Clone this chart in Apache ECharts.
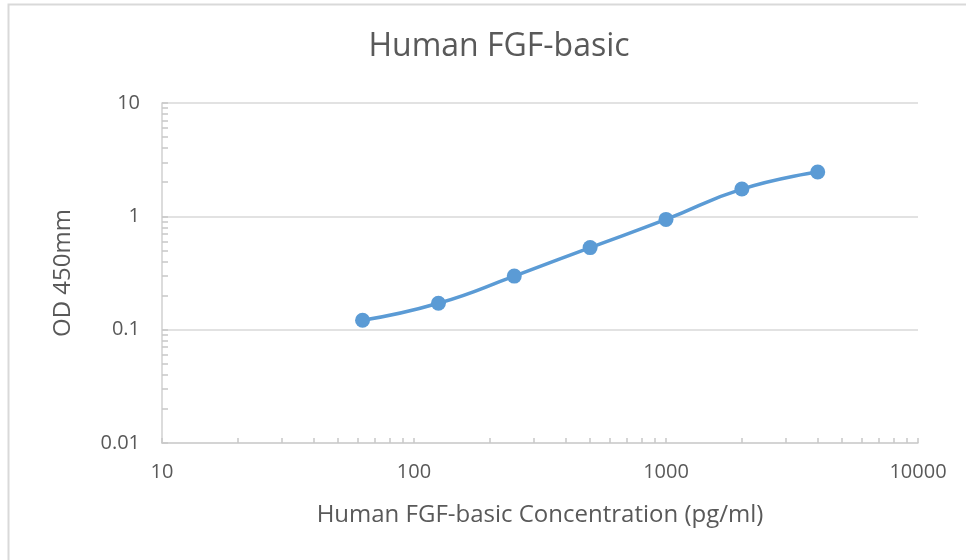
<!DOCTYPE html>
<html>
<head>
<meta charset="utf-8">
<script src="https://cdn.jsdelivr.net/npm/echarts@6/dist/echarts.min.js"></script>
<style>
  html, body { margin: 0; padding: 0; background: #fff; }
  #chart { width: 966px; height: 560px; }
</style>
</head>
<body>
<div id="chart"></div>
<script>
// concentration (pg/ml) and measured OD
const concentrations = [62.5, 125, 250, 500, 1000, 2000, 4000];
const odValues = [0.121, 0.171, 0.297, 0.53, 0.94, 1.74, 2.46];

// log tick positions (1..9 per decade)
const xTicks = [];
for (let d = 10; d < 10000; d *= 10) {
  for (let k = 1; k < 10; k++) xTicks.push(d * k);
}
xTicks.push(10000);
const yTicks = [];
for (let d = 0.01; d < 9; d *= 10) {
  for (let k = 1; k < 10; k++) yTicks.push(+(d * k).toPrecision(3));
}
yTicks.push(10);

const font = "'Open Sans', sans-serif";
const textColor = "#595959";
const plainNum = (v) => String(+v.toPrecision(6));

const chart = echarts.init(document.getElementById("chart"));
const option = {
  backgroundColor: "#fff",
  animation: false,
  title: {
    text: "Human FGF-basic",
    left: 494,
    textAlign: "center",
    top: 26,
    textStyle: {
      fontFamily: font,
      fontSize: 32,
      fontWeight: "normal",
      color: textColor,
    },
  },
  graphic: [
    {
      type: "rect",
      shape: { x: 8.5, y: 4.5, width: 1000, height: 600 },
      style: { fill: "none", stroke: "#d9d9d9", lineWidth: 2 },
      silent: true,
    },
  ],
  grid: {
    left: 162,
    right: 48,
    top: 103,
    bottom: 117,
    containLabel: false,
  },
  xAxis: {
    type: "log",
    logBase: 10,
    min: 10,
    max: 10000,
    name: "Human FGF-basic Concentration (pg/ml)",
    nameLocation: "middle",
    nameGap: 60,
    nameTextStyle: { fontFamily: font, fontSize: 24, color: textColor },
    axisLine: { lineStyle: { color: "#d0d0d0", width: 1.5 } },
    axisTick: {
      inside: true,
      length: 5,
      customValues: xTicks,
      lineStyle: { color: "#c8c8c8", width: 1.5 },
    },
    axisLabel: {
      margin: 19,
      fontFamily: font,
      fontSize: 20,
      color: textColor,
      formatter: plainNum,
    },
    splitLine: { show: false },
  },
  yAxis: [
    {
      type: "log",
      logBase: 10,
      min: 0.01,
      max: 10,
      name: "OD 450mm",
      nameLocation: "middle",
      nameGap: 87,
      nameRotate: 90,
      nameTextStyle: { fontFamily: font, fontSize: 24, color: textColor },
      axisLine: { show: true, lineStyle: { color: "#d0d0d0", width: 1.5 } },
      axisTick: {
        show: true,
        inside: true,
        length: 6,
        customValues: yTicks,
        lineStyle: { color: "#c8c8c8", width: 1.5 },
      },
      axisLabel: {
        margin: 22,
        fontFamily: font,
        fontSize: 20,
        color: textColor,
        formatter: plainNum,
      },
      splitLine: { show: false },
    },
    {
      // gridlines at decades only
      type: "log",
      logBase: 10,
      min: 0.01,
      max: 10,
      axisLine: { show: false },
      axisTick: { show: false },
      axisLabel: { show: false },
      splitLine: { show: true, lineStyle: { color: "#d9d9d9", width: 1.5 } },
      z: 0,
    },
  ],
  series: [
    {
      type: "line",
      data: concentrations.map((c, i) => [c, odValues[i]]),
      smooth: true,
      symbol: "circle",
      symbolSize: 15,
      lineStyle: { color: "#5b9bd5", width: 3.5 },
      itemStyle: { color: "#5b9bd5" },
    },
  ],
};
chart.setOption(option);
</script>
</body>
</html>
